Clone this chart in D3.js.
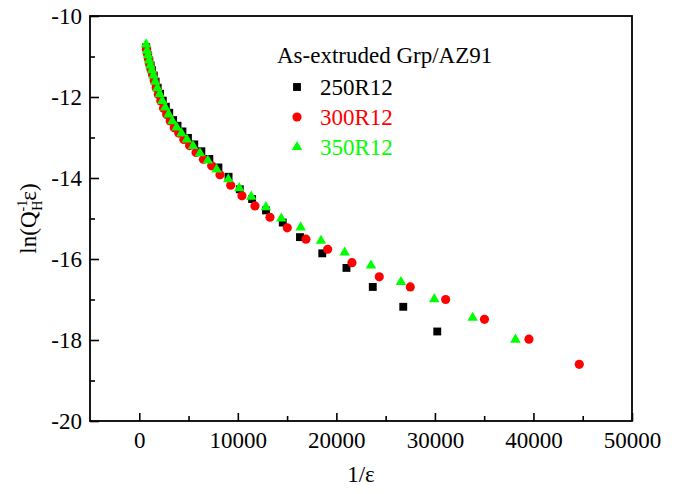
<!DOCTYPE html>
<html>
<head>
<meta charset="utf-8">
<script src="https://cdn.jsdelivr.net/npm/d3@7"></script>
<style>
  body { margin: 0; background: #fff; }
  svg { display: block; font-family: "Liberation Serif", "Times New Roman", serif; }
</style>
</head>
<body>
<svg></svg>
<script>
// 250R12
let blackX = [710, 800, 905, 1020, 1153, 1300, 1470, 1660, 1870, 2115, 2385, 2695, 3040, 3435, 3880, 4380, 4940, 5580, 6300, 7110, 8030, 9060, 10200, 11450, 12860, 14560, 16307, 18569, 21025, 23694, 26788, 30238]
let blackY = [-10.77, -10.87, -10.98, -11.10, -11.22, -11.34, -11.47, -11.62, -11.77, -11.92, -12.09, -12.24, -12.39, -12.57, -12.71, -12.85, -13.01, -13.17, -13.34, -13.53, -13.74, -13.97, -14.28, -14.52, -14.80, -15.10, -15.46, -15.86, -16.22, -16.69, -17.18, -17.79]
// 300R12
let redX = [733, 827, 934, 1054, 1190, 1344, 1517, 1713, 1934, 2183, 2465, 2783, 3142, 3547, 4005, 4522, 5105, 5764, 6507, 7346, 8189, 9275, 10421, 11741, 13262, 15018, 16915, 19117, 21583, 24353, 27499, 31091, 35028, 39543, 44648]
let redY = [-10.82, -10.93, -11.06, -11.20, -11.32, -11.45, -11.60, -11.77, -11.94, -12.10, -12.28, -12.43, -12.59, -12.76, -12.89, -13.05, -13.20, -13.37, -13.54, -13.70, -13.92, -14.18, -14.44, -14.69, -14.97, -15.23, -15.51, -15.76, -16.09, -16.44, -16.69, -17.00, -17.49, -17.98, -18.60]
// 350R12
let greenX = [694, 784, 885, 999, 1128, 1273, 1437, 1623, 1832, 2068, 2335, 2636, 2976, 3360, 3793, 4282, 4834, 5458, 6162, 6957, 7854, 9031, 10147, 11365, 12856, 14409, 16377, 18437, 20842, 23511, 26555, 29934, 33830, 38173]
let greenY = [-10.70, -10.86, -10.97, -11.10, -11.22, -11.34, -11.47, -11.62, -11.78, -11.93, -12.10, -12.26, -12.43, -12.60, -12.75, -12.90, -13.05, -13.21, -13.39, -13.57, -13.79, -14.03, -14.25, -14.46, -14.72, -15.00, -15.22, -15.55, -15.84, -16.16, -16.57, -16.99, -17.45, -17.99]

let seriesNames = ['250R12', '300R12', '350R12']
let legendTitle = 'As-extruded Grp/AZ91'
let xTicks = [0, 10000, 20000, 30000, 40000, 50000]
let xMinor = [5000, 15000, 25000, 35000, 45000]
let yTicks = [-20, -18, -16, -14, -12, -10]
let yMinor = [-19, -17, -15, -13, -11]

let width = 681
let height = 494
let plotLeft = 90, plotRight = 632, plotTop = 16, plotBottom = 421
let fontSize = 23

let svg = d3.select('svg').attr('width', width).attr('height', height)

let xScale = d3.scaleLinear().domain([-5000, 50000]).range([plotLeft, plotRight])
let yScale = d3.scaleLinear().domain([-20, -10]).range([plotBottom, plotTop])

let series = [
  { name: seriesNames[0], xs: blackX, ys: blackY, color: '#000000', shape: d3.symbolSquare, size: 62 },
  { name: seriesNames[1], xs: redX, ys: redY, color: '#ff0000', shape: d3.symbolCircle, size: 66 },
  { name: seriesNames[2], xs: greenX, ys: greenY, color: '#00ff00', shape: d3.symbolTriangle, size: 48 }
]

let drawAxes = () => {
  let xAxis = d3.axisBottom(xScale).tickValues(xTicks).tickSize(-8).tickPadding(11).tickFormat(d3.format('d'))
  let xAxisMinor = d3.axisBottom(xScale).tickValues(xMinor).tickSize(-5).tickFormat('')
  let yAxis = d3.axisLeft(yScale).tickValues(yTicks).tickSize(-9).tickPadding(8).tickFormat(d3.format('d'))
  let yAxisMinor = d3.axisLeft(yScale).tickValues(yMinor).tickSize(-5).tickFormat('')

  svg.append('g').attr('transform', 'translate(0,' + plotBottom + ')').call(xAxis)
  svg.append('g').attr('transform', 'translate(0,' + plotBottom + ')').call(xAxisMinor)
  let gy = svg.append('g').attr('transform', 'translate(' + plotLeft + ',0)').call(yAxis)
  svg.append('g').attr('transform', 'translate(' + plotLeft + ',0)').call(yAxisMinor)

  svg.selectAll('.domain').remove()
  svg.selectAll('.tick line').attr('stroke', '#000').attr('stroke-width', 1.6)
  svg.selectAll('.tick text')
    .style('font-family', '"Liberation Serif", "Times New Roman", serif')
    .style('font-size', fontSize + 'px')
    .attr('fill', '#000')
  gy.selectAll('.tick text').text(d => d < 0 ? '-' + Math.abs(d) : d)

  svg.append('rect')
    .attr('x', plotLeft).attr('y', plotTop)
    .attr('width', plotRight - plotLeft).attr('height', plotBottom - plotTop)
    .attr('fill', 'none').attr('stroke', '#000').attr('stroke-width', 1.8)
}

let drawPoints = () => {
  series.forEach((s) => {
    svg.append('g').selectAll('path')
      .data(s.xs.map((x, i) => [x, s.ys[i]]))
      .enter()
      .append('path')
      .attr('d', d3.symbol().type(s.shape).size(s.size))
      .attr('transform', (d) => 'translate(' + xScale(d[0]) + ',' + yScale(d[1]) + ')')
      .attr('fill', s.color)
  })
}

let drawLegend = () => {
  svg.append('text')
    .attr('x', 277).attr('y', 63)
    .attr('font-size', fontSize)
    .attr('fill', '#000')
    .text(legendTitle)

  series.forEach((s, i) => {
    let cy = 87 + i * 30
    svg.append('path')
      .attr('d', d3.symbol().type(s.shape).size(s.size))
      .attr('transform', 'translate(297,' + cy + ')')
      .attr('fill', s.color)
    svg.append('text')
      .attr('x', 320).attr('y', cy + 7.5)
      .attr('font-size', fontSize)
      .attr('fill', s.color)
      .text(s.name)
  })
}

let drawLabels = () => {
  svg.append('text')
    .attr('x', (plotLeft + plotRight) / 2).attr('y', 482)
    .attr('text-anchor', 'middle')
    .attr('font-size', fontSize)
    .text('1/\u03b5')

  let yl = svg.append('text')
    .attr('transform', 'translate(36,' + ((plotTop + plotBottom) / 2) + ') rotate(-90)')
    .attr('text-anchor', 'middle')
    .attr('font-size', fontSize)
  yl.append('tspan').text('ln(Q')
  yl.append('tspan').attr('font-size', 14).attr('dy', -9).text('-1')
  yl.append('tspan').attr('font-size', 14).attr('dx', -11).attr('dy', 15).text('H')
  yl.append('tspan').attr('dy', -6).text('\u03b5)')
}

drawAxes()
drawPoints()
drawLegend()
drawLabels()
</script>
</body>
</html>
